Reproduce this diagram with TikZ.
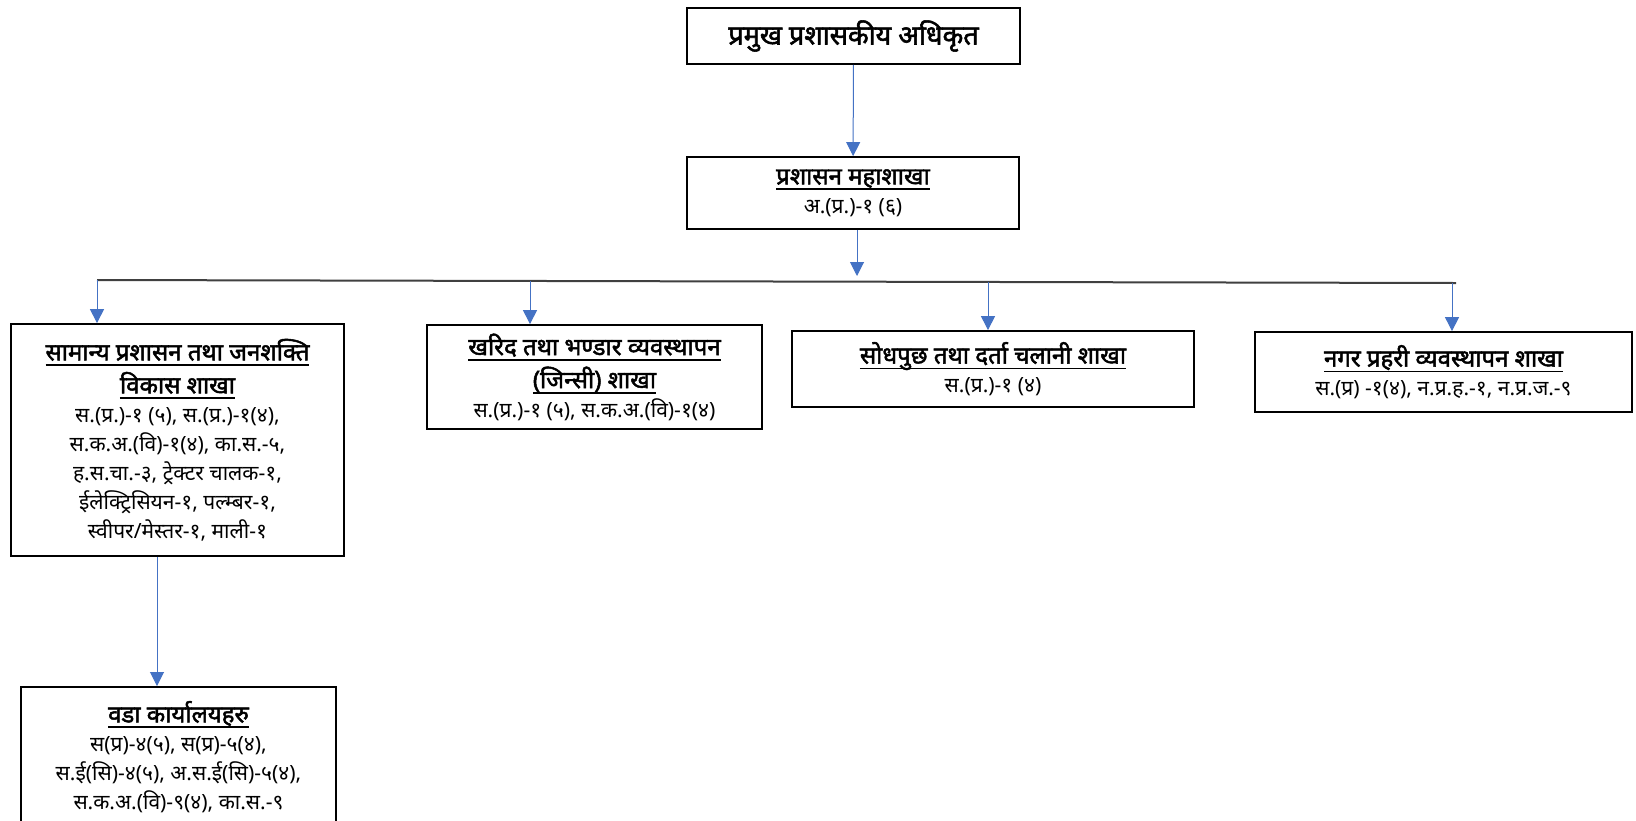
\documentclass[tikz,border=0pt]{standalone}
\usepackage{fontspec}
\setmainfont[Script=Devanagari]{Noto Sans}
\newfontfamily\bdev[Script=Devanagari, FakeBold=2]{Noto Sans}
\usetikzlibrary{arrows.meta}
\definecolor{arrowblue}{HTML}{4472C4}
% bold heading with a thick underline that does not change the line spacing
\newcommand{\hd}[1]{\setbox0\hbox{\bdev\fontsize{24}{30}\selectfont #1}%
  \leavevmode\rlap{\smash{\raisebox{-5.5pt}{\rule{\wd0}{1.6pt}}}}\box0}
\begin{document}
\begin{tikzpicture}[x=1pt,y=-1pt,
  box/.style={draw, line width=1.8pt, align=center, inner sep=0pt,
    font=\fontsize{21}{29}\selectfont},
  arr/.style={draw=arrowblue, line width=1pt,
    -{Triangle[width=14pt,length=14pt,fill=arrowblue]}},
  bus/.style={draw=black!75, line width=2pt}]
\clip (0,0) rectangle (1636,820);
\fill[white] (0,0) rectangle (1636,820);

% office chief and administration division
\node[box, minimum width=333pt, minimum height=56pt] (top) at (853.5,36)
  {\bdev\fontsize{27}{30}\selectfont प्रमुख प्रशासकीय अधिकृत};
\node[box, minimum width=332pt, minimum height=72pt] (admin) at (853,193)
  {\hd{प्रशासन महाशाखा}\\ अ.(प्र.)-१ (६)};

% sections
\node[box, minimum width=333pt, minimum height=232pt] (b1) at (177.5,440)
  {\hd{सामान्य प्रशासन तथा जनशक्ति}\\[4pt] \hd{विकास शाखा}\\
   स.(प्र.)-१ (५), स.(प्र.)-१(४),\\ स.क.अ.(वि)-१(४), का.स.-५,\\
   ह.स.चा.-३, ट्रेक्टर चालक-१,\\ ईलेक्ट्रिसियन-१, पल्म्बर-१,\\
   स्वीपर/मेस्तर-१, माली-१};
\node[box, minimum width=335pt, minimum height=104pt] (b2) at (594.5,377)
  {\hd{खरिद तथा भण्डार व्यवस्थापन}\\[4pt] \hd{(जिन्सी) शाखा}\\
   स.(प्र.)-१ (५), स.क.अ.(वि)-१(४)};
\node[box, minimum width=402pt, minimum height=76pt] (b3) at (993,369)
  {\hd{सोधपुछ तथा दर्ता चलानी शाखा}\\ स.(प्र.)-१ (४)};
\node[box, minimum width=377pt, minimum height=80pt] (b4) at (1443.5,372)
  {\hd{नगर प्रहरी व्यवस्थापन शाखा}\\ स.(प्र) -१(४), न.प्र.ह.-१, न.प्र.ज.-९};
\node[box, anchor=north, minimum width=315pt, minimum height=140pt] (b5) at (178.5,686)
  {\hd{वडा कार्यालयहरु}\\ स(प्र)-४(५), स(प्र)-५(४),\\
   स.ई(सि)-४(५), अ.स.ई(सि)-५(४),\\ स.क.अ.(वि)-९(४), का.स.-९};

% distribution bar
\coordinate (busL) at (97,280);
\coordinate (busR) at (1456,283);
\draw[bus] (busL) -- (busR);
\coordinate (busin) at (857,276);
\coordinate (t1) at (97,280);
\coordinate (t2) at (530,281.3);
\coordinate (t3) at (988,282.3);
\coordinate (t4) at (1452,283);
\coordinate (k5) at (157,0);

% connectors
\draw[arr] (top) -- (admin);
\draw[arr] (admin.south -| busin) -- (busin);
\draw[arr] (t1) -- (b1.north -| t1);
\draw[arr] (t2) -- (b2.north -| t2);
\draw[arr] (t3) -- (b3.north -| t3);
\draw[arr] (t4) -- (b4.north -| t4);
\draw[arr] (b1.south -| k5) -- (b5.north -| k5);
\end{tikzpicture}
\end{document}
